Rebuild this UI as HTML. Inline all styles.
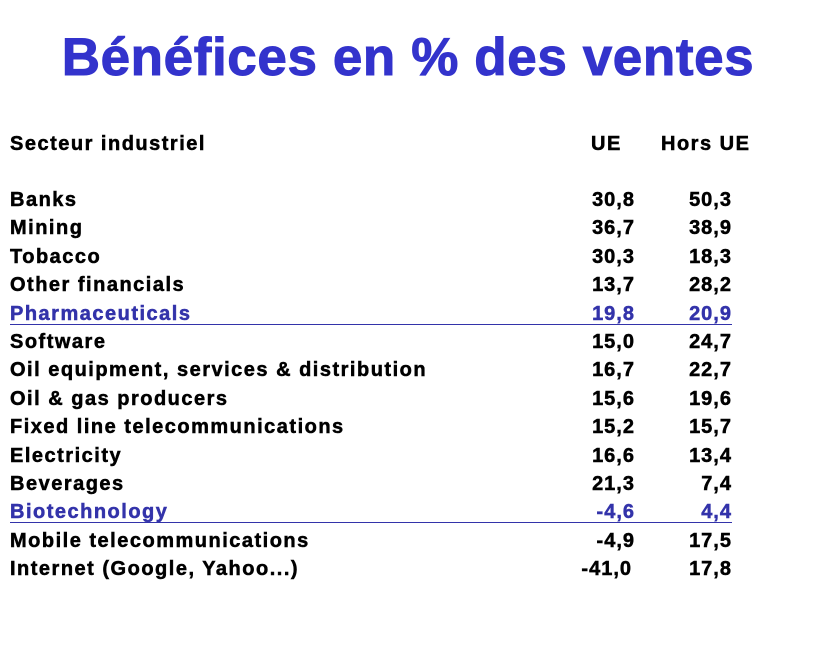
<!DOCTYPE html>
<html><head><meta charset="utf-8"><style>
html,body{margin:0;padding:0;background:#fff;}
#root{position:relative;width:816px;height:651px;overflow:hidden;font-family:"Liberation Sans",Arial,sans-serif;font-weight:bold;}
.t{position:absolute;white-space:nowrap;line-height:24px;font-size:20px;letter-spacing:1.5px;color:#000;-webkit-text-stroke:0.5px currentColor;}
#title{position:absolute;left:0;width:816px;top:28px;text-align:center;font-size:53px;line-height:60px;color:#3333cc;letter-spacing:0.6px;-webkit-text-stroke:1px #3333cc;}
.num{text-align:right;width:100px;letter-spacing:1px;}
.line{position:absolute;height:1px;background:#3333aa;left:10px;width:722px;}
</style></head><body>
<div id="root">
<div id="title">Bénéfices en % des ventes</div>
<div class="t" style="left:10px;top:132px">Secteur industriel</div>
<div class="t" style="left:591px;top:132px">UE</div>
<div class="t" style="left:661px;top:132px">Hors UE</div>
</div>
<script>
const sectors=["Banks","Mining","Tobacco","Other financials","Pharmaceuticals","Software","Oil equipment, services & distribution","Oil & gas producers","Fixed line telecommunications","Electricity","Beverages","Biotechnology","Mobile telecommunications","Internet  (Google, Yahoo...)"];
const ueValues=["30,8","36,7","30,3","13,7","19,8","15,0","16,7","15,6","15,2","16,6","21,3","-4,6","-4,9","-41,0"];
const horsUeValues=["50,3","38,9","18,3","28,2","20,9","24,7","22,7","19,6","15,7","13,4","7,4","4,4","17,5","17,8"];
const highlighted=["Pharmaceuticals","Biotechnology"];
const root=document.getElementById('root');
const rowTop=i=>188+i*28.4;
sectors.forEach((s,i)=>{
  const hl=highlighted.includes(s);
  const col=hl?'#3333aa':'#000';
  const a=document.createElement('div');a.className='t';
  
  
  a.style.left='10px';a.style.top=rowTop(i)+'px';a.style.color=col;a.textContent=s;root.appendChild(a);
  const b=document.createElement('div');b.className='t num';
  
  
  b.style.left=(i===13?532:535)+'px';b.style.top=rowTop(i)+'px';b.style.color=col;b.textContent=ueValues[i];root.appendChild(b);
  const c=document.createElement('div');c.className='t num';
  
  
  c.style.left='632px';c.style.top=rowTop(i)+'px';c.style.color=col;c.textContent=horsUeValues[i];root.appendChild(c);
  if(hl){const l=document.createElement('div');l.className='line';
    
    
    l.style.top=(rowTop(i)+22)+'px';root.appendChild(l);}
});
</script>
</body></html>
